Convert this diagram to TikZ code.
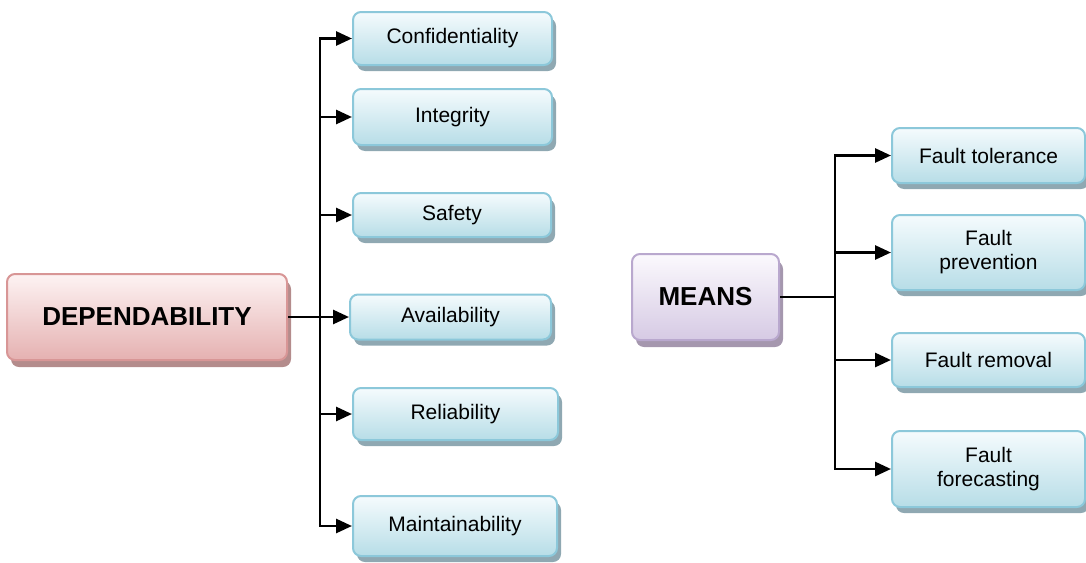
\documentclass[tikz,border=0pt]{standalone}
\usepackage{fontspec}
\setmainfont{Liberation Sans}
\usetikzlibrary{shadows,arrows.meta}

\definecolor{blueTop}{HTML}{F5FBFD}
\definecolor{blueBot}{HTML}{B7DDE7}
\definecolor{blueEdge}{HTML}{8CC8DA}
\definecolor{blueShade}{HTML}{8FA8B2}
\definecolor{pinkTop}{HTML}{FDF3F3}
\definecolor{pinkBot}{HTML}{E5B1B1}
\definecolor{pinkEdge}{HTML}{D89696}
\definecolor{pinkShade}{HTML}{B48C8C}
\definecolor{lilacTop}{HTML}{FBF9FD}
\definecolor{lilacBot}{HTML}{D6CAE4}
\definecolor{lilacEdge}{HTML}{B9A8CE}
\definecolor{lilacShade}{HTML}{A597AE}

\tikzset{
  box/.style={rectangle, rounded corners=8pt, line width=2pt, inner sep=0pt,
    align=center, font=\fontsize{21}{24}\selectfont, text=black},
  leaf/.style={box, draw=blueEdge, top color=blueTop, bottom color=blueBot,
    drop shadow={shadow xshift=4pt, shadow yshift=-6pt, fill=blueShade, opacity=1}},
  rootpink/.style={box, draw=pinkEdge, top color=pinkTop, bottom color=pinkBot,
    font=\fontsize{26}{30}\selectfont\bfseries,
    drop shadow={shadow xshift=4pt, shadow yshift=-7pt, fill=pinkShade, opacity=1}},
  rootlilac/.style={box, draw=lilacEdge, top color=lilacTop, bottom color=lilacBot,
    font=\fontsize{26}{30}\selectfont\bfseries,
    drop shadow={shadow xshift=4pt, shadow yshift=-7pt, fill=lilacShade, opacity=1}},
  conn/.style={line width=2.8pt, draw=black, -{Triangle[length=16pt,width=14pt]}},
  trunk/.style={line width=2.8pt, draw=black}
}

\begin{document}
\begin{tikzpicture}[x=1pt, y=-1pt]
  \useasboundingbox (0,0) rectangle (1086,562);

  % dependability tree
  \node[rootpink, minimum width=280pt, minimum height=86pt] (dep) at (147,317) {DEPENDABILITY};
  \node[leaf, minimum width=199pt, minimum height=53pt] (conf) at (452.5,38.5) {Confidentiality};
  \node[leaf, minimum width=199pt, minimum height=56pt] (integ) at (452.5,117) {Integrity};
  \node[leaf, minimum width=198pt, minimum height=44pt] (safe) at (452,215) {Safety};
  \node[leaf, minimum width=201pt, minimum height=45pt] (avail) at (450.5,317) {Availability};
  \node[leaf, minimum width=205pt, minimum height=52pt] (rel) at (455.5,414) {Reliability};
  \node[leaf, minimum width=204pt, minimum height=60pt] (maint) at (455,526) {Maintainability};

  \coordinate (lt) at (320,317);
  \draw[trunk] (lt |- conf.west) -- (lt |- maint.west);
  \draw[conn] (dep.east) -- (avail.west);
  \foreach \n in {conf,integ,safe,rel,maint}
    \draw[conn] (lt) |- (\n.west);

  % means tree
  \node[rootlilac, minimum width=147pt, minimum height=86pt] (means) at (705.5,297) {MEANS};
  \node[leaf, minimum width=193pt, minimum height=55pt] (ft) at (988.5,155.5) {Fault tolerance};
  \node[leaf, minimum width=193pt, minimum height=75pt] (fp) at (988.5,252.5) {Fault\\prevention};
  \node[leaf, minimum width=193pt, minimum height=54pt] (fr) at (988.5,360) {Fault removal};
  \node[leaf, minimum width=193pt, minimum height=76pt] (ff) at (988.5,469) {Fault\\forecasting};

  \coordinate (rt) at (835,297);
  \draw[trunk] (means.east) -- (rt);
  \draw[trunk] (rt |- ft.west) -- (rt |- ff.west);
  \foreach \n in {ft,fp,fr,ff}
    \draw[conn] (rt) |- (\n.west);
\end{tikzpicture}
\end{document}
